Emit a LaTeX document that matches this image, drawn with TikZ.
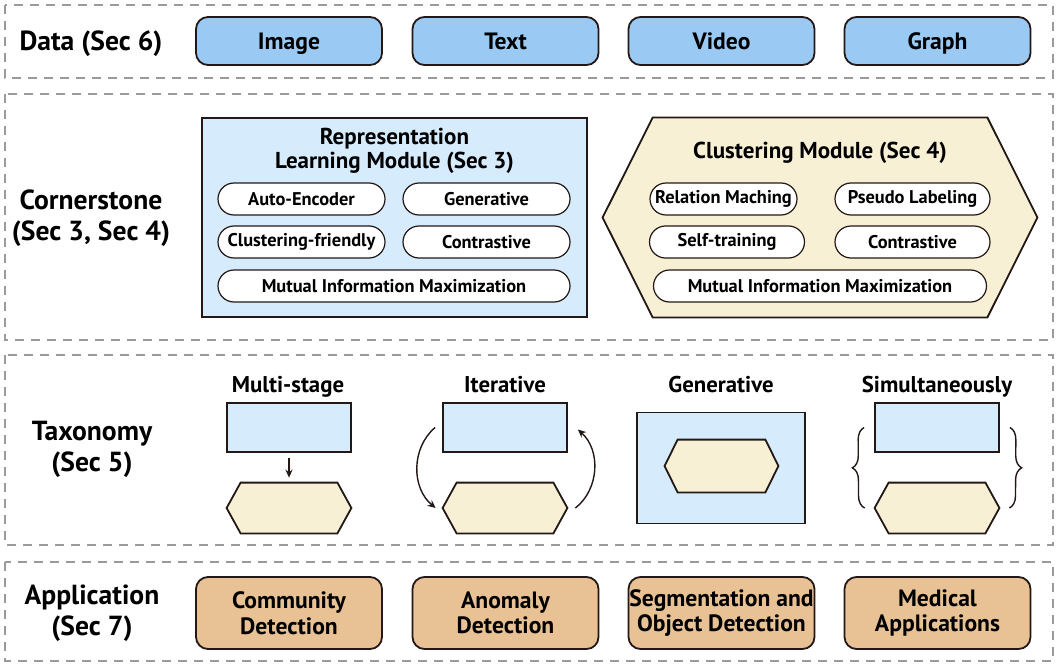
\documentclass[tikz,border=0pt]{standalone}
\usepackage{fontspec}
\setmainfont{PT Sans}
\usetikzlibrary{calc,arrows.meta,shapes.misc,decorations.pathreplacing}
\definecolor{datablue}{HTML}{9ACAF3}
\definecolor{lightblue}{HTML}{D6EBFC}
\definecolor{cream}{HTML}{F7F0D5}
\definecolor{tan}{HTML}{E8C194}
\definecolor{edge}{HTML}{231815}
\definecolor{dashgray}{HTML}{9A9A9A}
\newcommand{\drawhexagon}[2]{%
  \draw[hexline] (#1.west) -- ($(#1.north west)+(#2,0)$) -- ($(#1.north east)+(-#2,0)$) -- (#1.east) -- ($(#1.south east)+(-#2,0)$) -- ($(#1.south west)+(#2,0)$) -- cycle;}
\tikzset{
  secbox/.style={draw=dashgray, line width=0.8pt, dash pattern=on 4.5pt off 3.5pt},
  rowlabel/.style={font=\bfseries\fontsize{13.8}{15.5}\selectfont, align=center, inner sep=0},
  boxbase/.style={draw=edge, line width=0.9pt, rounded corners=6pt, minimum width=93pt, inner sep=0, font=\bfseries\fontsize{11.8}{12.8}\selectfont},
  databox/.style={boxbase, fill=datablue, minimum height=24pt, text height=8.6pt, text depth=0pt},
  appbox/.style={boxbase, fill=tan, minimum height=36pt, align=center},
  modbox/.style={draw=edge, fill=lightblue, line width=0.9pt, inner sep=0},
  modtitle/.style={font=\bfseries\fontsize{11.5}{12.3}\selectfont, align=center, inner sep=0},
  pill/.style={draw=edge, fill=white, line width=0.6pt, rounded rectangle, minimum height=16pt, inner sep=0, font=\bfseries\fontsize{9.2}{10}\selectfont},
  hexnode/.style={draw=none, inner sep=0},
  hexline/.style={draw=edge, fill=cream, line width=0.9pt},
  taxlabel/.style={font=\bfseries\fontsize{11.4}{12}\selectfont, inner sep=0, text height=8.4pt, text depth=2.2pt},
  taxrect/.style={draw=edge, fill=lightblue, line width=0.9pt, inner sep=0, minimum width=62pt, minimum height=24.5pt},
  arr/.style={draw=edge, line width=0.7pt, -{Stealth[length=4pt,width=3.6pt]}},
  bracestyle/.style={draw=edge, line width=0.7pt, decorate, decoration={brace, amplitude=6pt}},
}
\begin{document}
\begin{tikzpicture}[x=0.5pt, y=-0.5pt]
\useasboundingbox (0,0) rectangle (1063,663);
% section frames
\draw[secbox] (5,5) rectangle (1053,78);
\draw[secbox] (5,94) rectangle (1053,340);
\draw[secbox] (5,355) rectangle (1053,545);
\draw[secbox] (5,562) rectangle (1053,661);
% row labels
\node[rowlabel] (ldata) at (91,44) {Data (Sec 6)};
\node[rowlabel] (lcorner) at (91,218.5) {Cornerstone\\(Sec 3, Sec 4)};
\node[rowlabel] (ltax) at (92,449) {Taxonomy\\(Sec 5)};
\node[rowlabel] (lapp) at (92,613.5) {Application\\(Sec 7)};
% data
\node[databox] (image) at (289,41) {Image};
\node[databox] (text) at (505.5,41) {Text};
\node[databox] (video) at (721.5,41) {Video};
\node[databox] (graph) at (937.5,41) {Graph};
% representation module
\node[modbox, minimum width=192.5pt, minimum height=99.5pt] (rep) at (394.5,217.5) {};
\node[modtitle] (reptitle) at (394.5,151) {Representation\\Learning Module (Sec 3)};
\node[pill, minimum width=83.5pt] (ae) at (301.5,199) {Auto-Encoder};
\node[pill, minimum width=83.5pt] (gen) at (486.5,199) {Generative};
\node[pill, minimum width=83.5pt] (cf) at (301.5,242) {Clustering-friendly};
\node[pill, minimum width=83.5pt] (con) at (486.5,242) {Contrastive};
\node[pill, minimum width=176pt] (mim) at (394,286) {Mutual Information Maximization};
% clustering module
\node[hexnode, minimum width=217pt, minimum height=99.5pt] (clu) at (820,217.5) {};
\drawhexagon{clu}{50}
\node[modtitle] (clutitle) at (820,153) {Clustering Module (Sec 4)};
\node[pill, minimum width=73.5pt] (rm) at (723.5,199) {Relation Maching};
\node[pill, minimum width=77.5pt] (pl) at (912.5,199) {Pseudo Labeling};
\node[pill, minimum width=77.5pt] (st) at (727,242) {Self-training};
\node[pill, minimum width=77.5pt] (ccon) at (912.5,242) {Contrastive};
\node[pill, minimum width=166.5pt] (cmim) at (820,286) {Mutual Information Maximization};
% taxonomy
\node[taxlabel] (tms) at (288,386) {Multi-stage};
\node[taxlabel] (tit) at (505,386) {Iterative};
\node[taxlabel] (tgen) at (721,386) {Generative};
\node[taxlabel] (tsim) at (937,386) {Simultaneously};
% multi-stage
\node[taxrect] (ms) at (289,427.5) {};
\node[hexnode, minimum width=62pt, minimum height=25pt] (mshex) at (289,508) {};
\drawhexagon{mshex}{14}
\draw[arr, shorten <=2.5pt, shorten >=2.5pt] (ms.south) -- (mshex.north);
% iterative
\node[taxrect] (it) at (505,427.5) {};
\node[hexnode, minimum width=62pt, minimum height=25pt] (ithex) at (505,508) {};
\drawhexagon{ithex}{14}
\coordinate (itl1) at ($(it.west)+(-7,0)$);
\coordinate (itl2) at ($(ithex.west)+(-7,0)$);
\coordinate (itr1) at ($(ithex.east)+(8,0)$);
\coordinate (itr2) at ($(it.east)+(10,2)$);
\draw[arr] (itl1) to[bend right=50] (itl2);
\draw[arr] (itr1) to[bend right=50] (itr2);
% generative
\node[taxrect, minimum width=84pt, minimum height=55.5pt] (gout) at (721,468) {};
\node[hexnode, minimum width=56.5pt, minimum height=26pt] (ghex) at (721.5,466) {};
\drawhexagon{ghex}{13}
% simultaneously
\node[taxrect] (sim) at (937,427.5) {};
\node[hexnode, minimum width=62pt, minimum height=25pt] (simhex) at (937,508) {};
\drawhexagon{simhex}{14}
\coordinate (bl1) at ($(simhex.west)+(-10,0)$);
\coordinate (bl2) at ($(sim.west)+(-10,0)$);
\coordinate (br1) at ($(sim.east)+(10,0)$);
\coordinate (br2) at ($(simhex.east)+(10,0)$);
\draw[bracestyle] (bl1) -- (bl2);
\draw[bracestyle] (br1) -- (br2);
% applications
\node[appbox] (comm) at (289,613) {Community\\Detection};
\node[appbox] (anom) at (505.5,613) {Anomaly\\Detection};
\node[appbox] (seg) at (721.5,613) {Segmentation and\\Object Detection};
\node[appbox] (med) at (937.5,613) {Medical\\Applications};
\end{tikzpicture}
\end{document}
